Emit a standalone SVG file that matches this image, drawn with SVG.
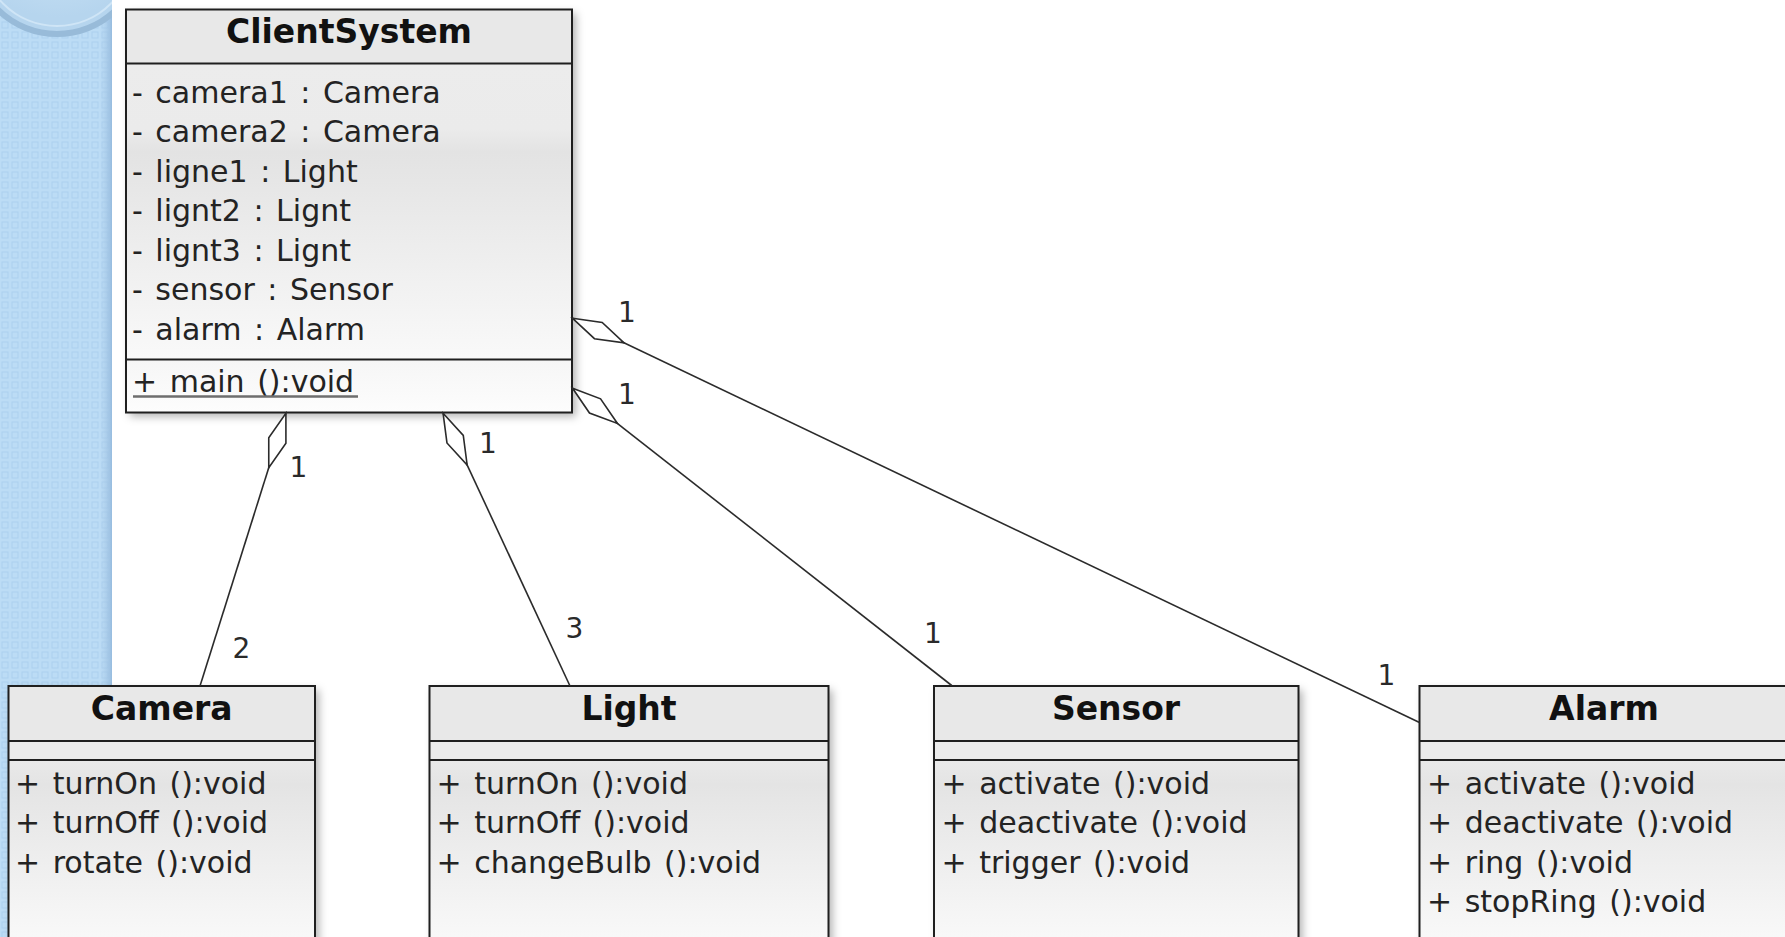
<svg xmlns="http://www.w3.org/2000/svg" width="1785" height="937" viewBox="0 0 1785 937">
  <style>
    .frame { stroke: #1f1f1f; stroke-width: 2; }
    .head { fill: #e8e8e8; }
    .title { font-family: "DejaVu Sans", Verdana, sans-serif; font-weight: bold; font-size: 33px; fill: #111; text-anchor: middle; }
    .member { font-family: "DejaVu Sans", Verdana, sans-serif; font-size: 30px; word-spacing: 3px; fill: #232323; }
    .mult { font-family: "DejaVu Sans", Verdana, sans-serif; font-size: 28px; fill: #2a2a2a; text-anchor: middle; }
    .assoc { stroke: #2b2b2b; stroke-width: 1.6; fill: none; marker-start: url(#aggregation); }
  </style>
  <defs>
    <pattern id="panelTile" width="10" height="10" patternUnits="userSpaceOnUse">
      <rect width="10" height="10" fill="#bcdcf5"/>
      <rect x="2" y="2" width="6" height="6" fill="none" stroke="#acd0ef" stroke-width="1"/>
    </pattern>
    <linearGradient id="panelEdge" x1="0" y1="0" x2="1" y2="0">
      <stop offset="0" stop-color="#a9cbe8" stop-opacity="0"/>
      <stop offset="1" stop-color="#97bcdf"/>
    </linearGradient>
    <radialGradient id="disc" cx="0.5" cy="0.3" r="0.6">
      <stop offset="0" stop-color="#d2e8f8"/>
      <stop offset="1" stop-color="#b6d5ee"/>
    </radialGradient>
    <clipPath id="panelClip">
      <rect x="0" y="0" width="112" height="937"/>
    </clipPath>
    <linearGradient id="bodyFill" x1="0" y1="0" x2="0" y2="1">
      <stop offset="0" stop-color="#ececec"/>
      <stop offset="0.22" stop-color="#ebebeb"/>
      <stop offset="0.3" stop-color="#e3e3e3"/>
      <stop offset="1" stop-color="#f9f9f9"/>
    </linearGradient>
    <linearGradient id="opsFill" x1="0" y1="0" x2="0" y2="1">
      <stop offset="0" stop-color="#e9e9e9"/>
      <stop offset="0.12" stop-color="#e4e4e4"/>
      <stop offset="1" stop-color="#fcfcfc"/>
    </linearGradient>
    <linearGradient id="mainFill" x1="0" y1="0" x2="0" y2="1">
      <stop offset="0" stop-color="#f6f6f6"/>
      <stop offset="1" stop-color="#fdfdfd"/>
    </linearGradient>
    <filter id="shadow" x="-10%" y="-10%" width="125%" height="125%">
      <feDropShadow dx="4" dy="4" stdDeviation="4" flood-color="#000" flood-opacity="0.3"/>
    </filter>
    <marker id="aggregation" markerUnits="userSpaceOnUse" markerWidth="60" markerHeight="20" refX="0" refY="0" orient="auto" overflow="visible">
      <path d="M0,0 L28.5,-9 L57,0 L28.5,9 Z" fill="#fff" stroke="#2b2b2b" stroke-width="1.6"/>
    </marker>
  </defs>

  <rect width="1785" height="937" fill="#fff"/>

  <!-- side panel -->
  <g id="side-panel" clip-path="url(#panelClip)">
    <rect x="0" y="0" width="112" height="937" fill="url(#panelTile)"/>
    <rect x="100" y="0" width="12" height="937" fill="url(#panelEdge)"/>
    <circle cx="57" cy="-50" r="84" fill="url(#disc)" stroke="#98bbd9" stroke-width="6"/>
    <circle cx="57" cy="-50" r="76" fill="none" stroke="#cfe5f6" stroke-width="2"/>
  </g>

  <!-- ClientSystem -->
  <g id="ClientSystem">
    <g filter="url(#shadow)">
      <rect x="126" y="9.5" width="446" height="403" fill="#fff"/>
    </g>
    <rect class="head" x="126" y="9.5" width="446" height="54"/>
    <rect x="126" y="63.5" width="446" height="296" fill="url(#bodyFill)"/>
    <rect x="126" y="359.5" width="446" height="53" fill="url(#mainFill)"/>
    <rect class="frame" x="126" y="9.5" width="446" height="403" fill="none"/>
    <line class="frame" x1="126" y1="63.5" x2="572" y2="63.5"/>
    <line class="frame" x1="126" y1="359.5" x2="572" y2="359.5"/>
    <text class="title" x="349" y="43">ClientSystem</text>
    <text class="member" x="132" y="102.5">- camera1 : Camera</text>
    <text class="member" x="132" y="142">- camera2 : Camera</text>
    <text class="member" x="132" y="181.5">- ligne1 : Light</text>
    <text class="member" x="132" y="221">- lignt2 : Lignt</text>
    <text class="member" x="132" y="260.5">- lignt3 : Lignt</text>
    <text class="member" x="132" y="300">- sensor : Sensor</text>
    <text class="member" x="132" y="339.5">- alarm : Alarm</text>
    <text class="member" x="132" y="391.7">+ main ():void</text>
    <line x1="133" y1="396.5" x2="358" y2="396.5" stroke="#6e6e6e" stroke-width="2.5"/>
  </g>

  <!-- Camera -->
  <g id="Camera">
    <g filter="url(#shadow)">
      <rect x="8.5" y="686" width="306.5" height="280" fill="#fff"/>
    </g>
    <rect class="head" x="8.5" y="686" width="306.5" height="55"/>
    <rect x="8.5" y="741" width="306.5" height="19" fill="#ebebeb"/>
    <rect x="8.5" y="760" width="306.5" height="206" fill="url(#opsFill)"/>
    <rect class="frame" x="8.5" y="686" width="306.5" height="280" fill="none"/>
    <line class="frame" x1="8.5" y1="741" x2="315" y2="741"/>
    <line class="frame" x1="8.5" y1="760" x2="315" y2="760"/>
    <text class="title" x="161.7" y="720">Camera</text>
    <text class="member" x="15" y="793.5">+ turnOn ():void</text>
    <text class="member" x="15" y="833">+ turnOff ():void</text>
    <text class="member" x="15" y="872.5">+ rotate ():void</text>
  </g>

  <!-- Light -->
  <g id="Light">
    <g filter="url(#shadow)">
      <rect x="429.5" y="686" width="399" height="280" fill="#fff"/>
    </g>
    <rect class="head" x="429.5" y="686" width="399" height="55"/>
    <rect x="429.5" y="741" width="399" height="19" fill="#ebebeb"/>
    <rect x="429.5" y="760" width="399" height="206" fill="url(#opsFill)"/>
    <rect class="frame" x="429.5" y="686" width="399" height="280" fill="none"/>
    <line class="frame" x1="429.5" y1="741" x2="828.5" y2="741"/>
    <line class="frame" x1="429.5" y1="760" x2="828.5" y2="760"/>
    <text class="title" x="629" y="720">Light</text>
    <text class="member" x="436.5" y="793.5">+ turnOn ():void</text>
    <text class="member" x="436.5" y="833">+ turnOff ():void</text>
    <text class="member" x="436.5" y="872.5">+ changeBulb ():void</text>
  </g>

  <!-- Sensor -->
  <g id="Sensor">
    <g filter="url(#shadow)">
      <rect x="934" y="686" width="364.5" height="280" fill="#fff"/>
    </g>
    <rect class="head" x="934" y="686" width="364.5" height="55"/>
    <rect x="934" y="741" width="364.5" height="19" fill="#ebebeb"/>
    <rect x="934" y="760" width="364.5" height="206" fill="url(#opsFill)"/>
    <rect class="frame" x="934" y="686" width="364.5" height="280" fill="none"/>
    <line class="frame" x1="934" y1="741" x2="1298.5" y2="741"/>
    <line class="frame" x1="934" y1="760" x2="1298.5" y2="760"/>
    <text class="title" x="1116" y="720">Sensor</text>
    <text class="member" x="941.5" y="793.5">+ activate ():void</text>
    <text class="member" x="941.5" y="833">+ deactivate ():void</text>
    <text class="member" x="941.5" y="872.5">+ trigger ():void</text>
  </g>

  <!-- Alarm -->
  <g id="Alarm">
    <g filter="url(#shadow)">
      <rect x="1419.5" y="686" width="369" height="280" fill="#fff"/>
    </g>
    <rect class="head" x="1419.5" y="686" width="369" height="55"/>
    <rect x="1419.5" y="741" width="369" height="19" fill="#ebebeb"/>
    <rect x="1419.5" y="760" width="369" height="206" fill="url(#opsFill)"/>
    <rect class="frame" x="1419.5" y="686" width="369" height="280" fill="none"/>
    <line class="frame" x1="1419.5" y1="741" x2="1788.5" y2="741"/>
    <line class="frame" x1="1419.5" y1="760" x2="1788.5" y2="760"/>
    <text class="title" x="1604" y="720">Alarm</text>
    <text class="member" x="1427" y="793.5">+ activate ():void</text>
    <text class="member" x="1427" y="833">+ deactivate ():void</text>
    <text class="member" x="1427" y="872.5">+ ring ():void</text>
    <text class="member" x="1427" y="912">+ stopRing ():void</text>
  </g>

  <!-- aggregations from ClientSystem -->
  <g id="connectors">
    <path class="assoc" d="M285.9,413.3 L200,686"/>
    <path class="assoc" d="M443.1,413.3 L570,686"/>
    <path class="assoc" d="M572.6,388.3 L951.7,685.5"/>
    <path class="assoc" d="M572.6,318.3 L1419.5,722.5"/>
    <text class="mult" x="298.5" y="476.5">1</text>
    <text class="mult" x="241.5" y="658">2</text>
    <text class="mult" x="488" y="452.5">1</text>
    <text class="mult" x="574.5" y="638">3</text>
    <text class="mult" x="627" y="404">1</text>
    <text class="mult" x="933" y="642.5">1</text>
    <text class="mult" x="627" y="321.5">1</text>
    <text class="mult" x="1386.5" y="685">1</text>
  </g>
</svg>
